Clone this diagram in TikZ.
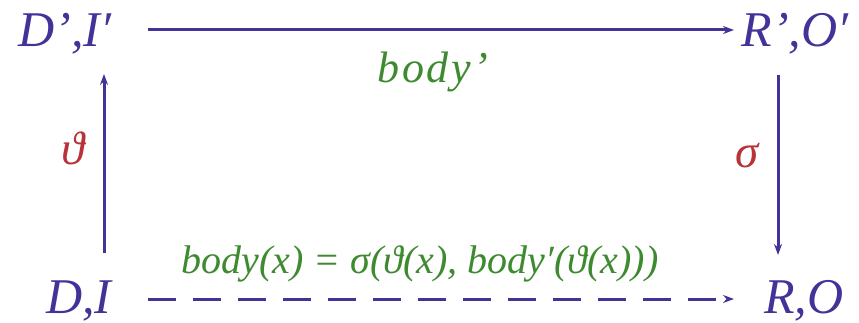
\documentclass[tikz,border=0pt]{standalone}
\usepackage{fontspec}
\setmainfont{Liberation Serif}
\newfontfamily\wideit[LetterSpace=6]{Liberation Serif}
\usetikzlibrary{arrows.meta}
\definecolor{pur}{HTML}{433399}
\definecolor{grn}{HTML}{3D8A2F}
\definecolor{rd}{HTML}{B83238}
\tikzset{
  obj/.style={text=pur,font=\fontsize{50}{60}\selectfont\itshape,inner sep=0pt,anchor=base},
  lbl/.style={text=rd,font=\fontsize{47}{56}\selectfont\itshape,inner sep=0pt},
  glbl/.style={text=grn,font=\fontsize{44}{50}\wideit\itshape,inner sep=0pt,anchor=base},
  arr/.style={draw=pur,line width=3pt,-{Stealth[length=11pt,width=8pt]}}
}
\begin{document}
\begin{tikzpicture}[x=1pt,y=-1pt]
\useasboundingbox (0,0) rectangle (859,323);
\node[obj] (DpIp) at (65,47) {D’,I′};
\node[obj] (RpOp) at (795,47) {R’,O′};
\node[obj] (DI) at (79,313) {D,I};
\node[obj] (RO) at (804,313) {R,O};
\coordinate (t1) at (148,30);
\coordinate (t2) at (734,30);
\coordinate (l1) at (104,253);
\coordinate (l2) at (104,74);
\coordinate (r1) at (778,75);
\coordinate (r2) at (778,255);
\coordinate (b1) at (148,299);
\coordinate (b2) at (734,299);
\draw[arr] (t1) -- (t2);
\draw[arr] (l1) -- (l2);
\draw[arr] (r1) -- (r2);
\draw[arr,dash pattern=on 28pt off 17pt] (b1) -- (b2);
\node[glbl] (bp) at (433,83) {body’};
\node[lbl] (theta) at (73,148) {ϑ};
\node[lbl] (sigma) at (747,156) {σ};
\node[glbl,font=\fontsize{40}{46}\selectfont\itshape] (eq) at (420,273) {body(x) = σ(ϑ(x), body′(ϑ(x)))};
\end{tikzpicture}
\end{document}
